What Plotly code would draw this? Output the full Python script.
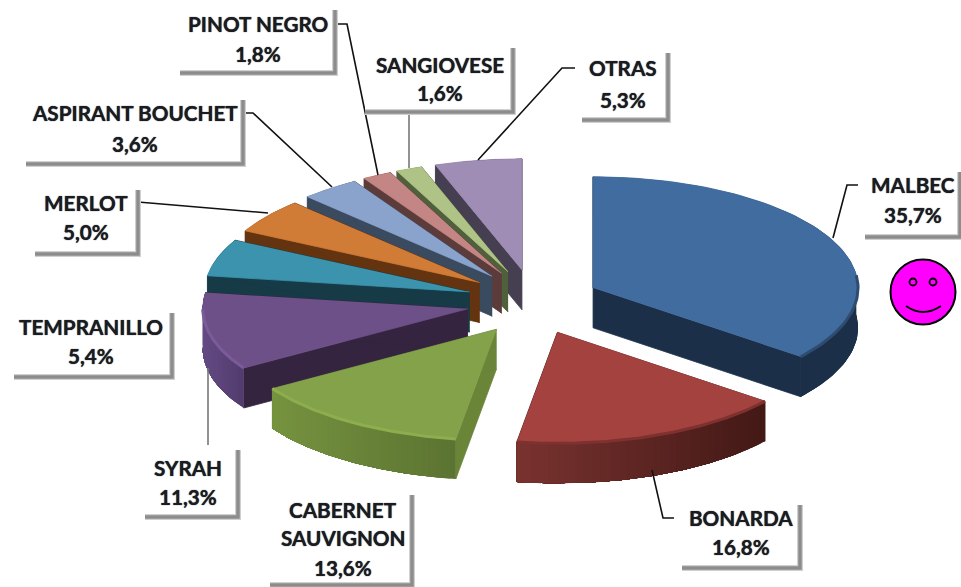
import numpy as np
import plotly.graph_objects as go

categories = ["MALBEC", "BONARDA", "CABERNET<br>SAUVIGNON", "SYRAH", "TEMPRANILLO", "MERLOT",
              "ASPIRANT BOUCHET", "PINOT NEGRO", "SANGIOVESE", "OTRAS"]
values = [35.7, 16.8, 13.6, 11.3, 5.4, 5.0, 3.6, 1.8, 1.6, 5.3]

top_colors = ["#416c9f", "#a3423f", "#84a24a", "#6e5088", "#3b93ad", "#d07b36", "#8aa3cc", "#c48684", "#aec385", "#9f8db5"]
face_colors = ["#1b2f48", "#451a18", "#6a8438", "#35243f", "#173a47", "#63340f", "#3a4a5f", "#5c3c3b", "#505f3c", "#463f52"]
wall_left = ["#1b2f48", "#7a3330", "#76933f", "#654a84", "#173a47", "#63340f", "#3a4a5f", "#5c3c3b", "#505f3c", "#463f52"]
wall_right = ["#1b2f48", "#431916", "#5c7432", "#523c6e", "#173a47", "#63340f", "#3a4a5f", "#5c3c3b", "#505f3c", "#463f52"]
rim_colors = ["#2e4c70", "#7e312e", "#8dae4e", "#7a5a98", None, None, None, None, None, None]

# pie geometry, in picture pixels
CX, CY = 533, 302
RX, RY = 265, 111
EX, EY = 66.7, 32.6
DEPTH = 40

# label box: left, top, right, bottom, then the text centre and y of each line
boxes = {
    "MALBEC": (865, 172, 960, 237, 913, [185, 215]),
    "BONARDA": (682, 505, 800, 568, 741, [518, 547]),
    "CABERNET<br>SAUVIGNON": (270, 495, 412, 585, 343, [510, 538, 568]),
    "SYRAH": (145, 450, 238, 517, 188, [468, 497]),
    "TEMPRANILLO": (14, 313, 172, 377, 91, [327, 356]),
    "MERLOT": (35, 190, 138, 254, 86, [203, 232]),
    "ASPIRANT BOUCHET": (26, 100, 243, 164, 135, [113, 144]),
    "PINOT NEGRO": (180, 10, 335, 73, 258, [24, 54]),
    "SANGIOVESE": (365, 48, 513, 112, 440, [65, 93]),
    "OTRAS": (582, 53, 668, 120, 623, [68, 100]),
}

leaders = [
    ([833, 847, 858], [238, 185, 185], "#111111"),
    ([652, 663, 674], [470, 518, 518], "#111111"),
    ([208, 208], [368, 445], "#777777"),
    ([138, 268], [202, 213], "#111111"),
    ([245, 253, 332], [113, 113, 187], "#111111"),
    ([337, 347, 378], [24, 24, 175], "#111111"),
    ([409, 409], [112, 168], "#777777"),
    ([478, 562, 575], [160, 68, 68], "#111111"),
]


def mix(c1, c2, t):
    a = [int(c1[i:i + 2], 16) for i in (1, 3, 5)]
    b = [int(c2[i:i + 2], 16) for i in (1, 3, 5)]
    return "rgb(%d,%d,%d)" % tuple(round(p + (q - p) * t) for p, q in zip(a, b))


def poly(fig, xs, ys, color, name, width=0.8):
    fig.add_trace(go.Scatter(x=xs, y=ys, mode="lines", fill="toself", fillcolor=color,
                             line=dict(color=color, width=width), name=name,
                             hoverinfo="name", showlegend=False))


fig = go.Figure()

shares = np.array(values) / sum(values) * 2 * np.pi
ends = np.cumsum(shares)
starts = ends - shares

# back slices first so the front ones paint over them
for i in reversed(range(len(values))):
    a0, a1, name = starts[i], ends[i], categories[i].replace("<br>", " ")
    mid = (a0 + a1) / 2
    ox = CX + EX * np.sin(mid)
    oy = CY - EY * np.cos(mid)
    t = np.linspace(a0, a1, 81)
    ax = ox + RX * np.sin(t)
    ay = oy - RY * np.cos(t)

    # flat cut faces
    for x_end, y_end in ((ax[0], ay[0]), (ax[-1], ay[-1])):
        poly(fig, [ox, x_end, x_end, ox], [oy, y_end, y_end + DEPTH, oy + DEPTH], face_colors[i], name)

    # outer wall, each step overlaps the rest of the arc so no seams show
    x_lo, x_hi = ax.min(), ax.max()
    steps = 4 if wall_left[i] == wall_right[i] else 32
    for j in np.linspace(0, len(t) - 2, steps).astype(int):
        sx, sy = ax[j:], ay[j:]
        shade = mix(wall_left[i], wall_right[i], (sx[0] - x_lo) / (x_hi - x_lo))
        poly(fig, list(sx) + list(sx[::-1]), list(sy) + list(sy[::-1] + DEPTH), shade, name, width=0)

    poly(fig, [ox] + list(ax), [oy] + list(ay), top_colors[i], name)

    if rim_colors[i]:
        front = (t > np.pi * 0.46) & (t < np.pi * 1.5)
        fig.add_trace(go.Scatter(x=ax[front], y=ay[front], mode="lines",
                                 line=dict(color=rim_colors[i], width=3),
                                 hoverinfo="skip", showlegend=False))

shapes = []
for xs, ys, color in leaders:
    path = "M " + " L ".join(f"{x},{y}" for x, y in zip(xs, ys))
    shapes.append(dict(type="path", path=path, line=dict(color=color, width=1.6)))

annotations = []
for cat, val in zip(categories, values):
    x0, y0, x1, y1, tx, tys = boxes[cat]
    shapes.append(dict(type="rect", x0=x0, y0=y0, x1=x1, y1=y1, fillcolor="white", line_width=0))
    corner = f"M {x1},{y0} L {x1},{y1} L {x0},{y1}"
    shapes.append(dict(type="path", path=corner, line=dict(color="#d0d0d0", width=6)))
    shapes.append(dict(type="path", path=corner, line=dict(color="#8c8c8c", width=3.5)))
    lines = cat.split("<br>") + [f"{val:.1f}".replace(".", ",") + "%"]
    for text, ty in zip(lines, tys):
        annotations.append(dict(x=tx, y=ty, text=f"<b>{text}</b>", showarrow=False,
                                font=dict(family="Lato", size=20.7, color="#1b1b22",
                                          shadow="0 0 1px #1b1b22")))

# the smiley
shapes.append(dict(type="circle", x0=890.5, y0=259.5, x1=955.5, y1=324.5, fillcolor="#ff00ff",
                   line=dict(color="black", width=2)))
for ex in (913, 933):
    shapes.append(dict(type="circle", x0=ex - 3.5, y0=278.5, x1=ex + 3.5, y1=285.5, fillcolor="#ff00ff",
                       line=dict(color="black", width=1.8)))
shapes.append(dict(type="path", path="M 906,306 Q 923,318 941,306", line=dict(color="black", width=1.8)))

fig.update_layout(
    width=961, height=587, margin=dict(l=0, r=0, t=0, b=0),
    paper_bgcolor="white", plot_bgcolor="white",
    shapes=shapes, annotations=annotations, showlegend=False,
    xaxis=dict(range=[0, 961], visible=False, fixedrange=True),
    yaxis=dict(range=[587, 0], visible=False, fixedrange=True),
)

# the page's default body margin would push the chart 8px in
fig.write_html("out.html", config=dict(displayModeBar=False),
               post_script="document.body.style.margin='0';")
